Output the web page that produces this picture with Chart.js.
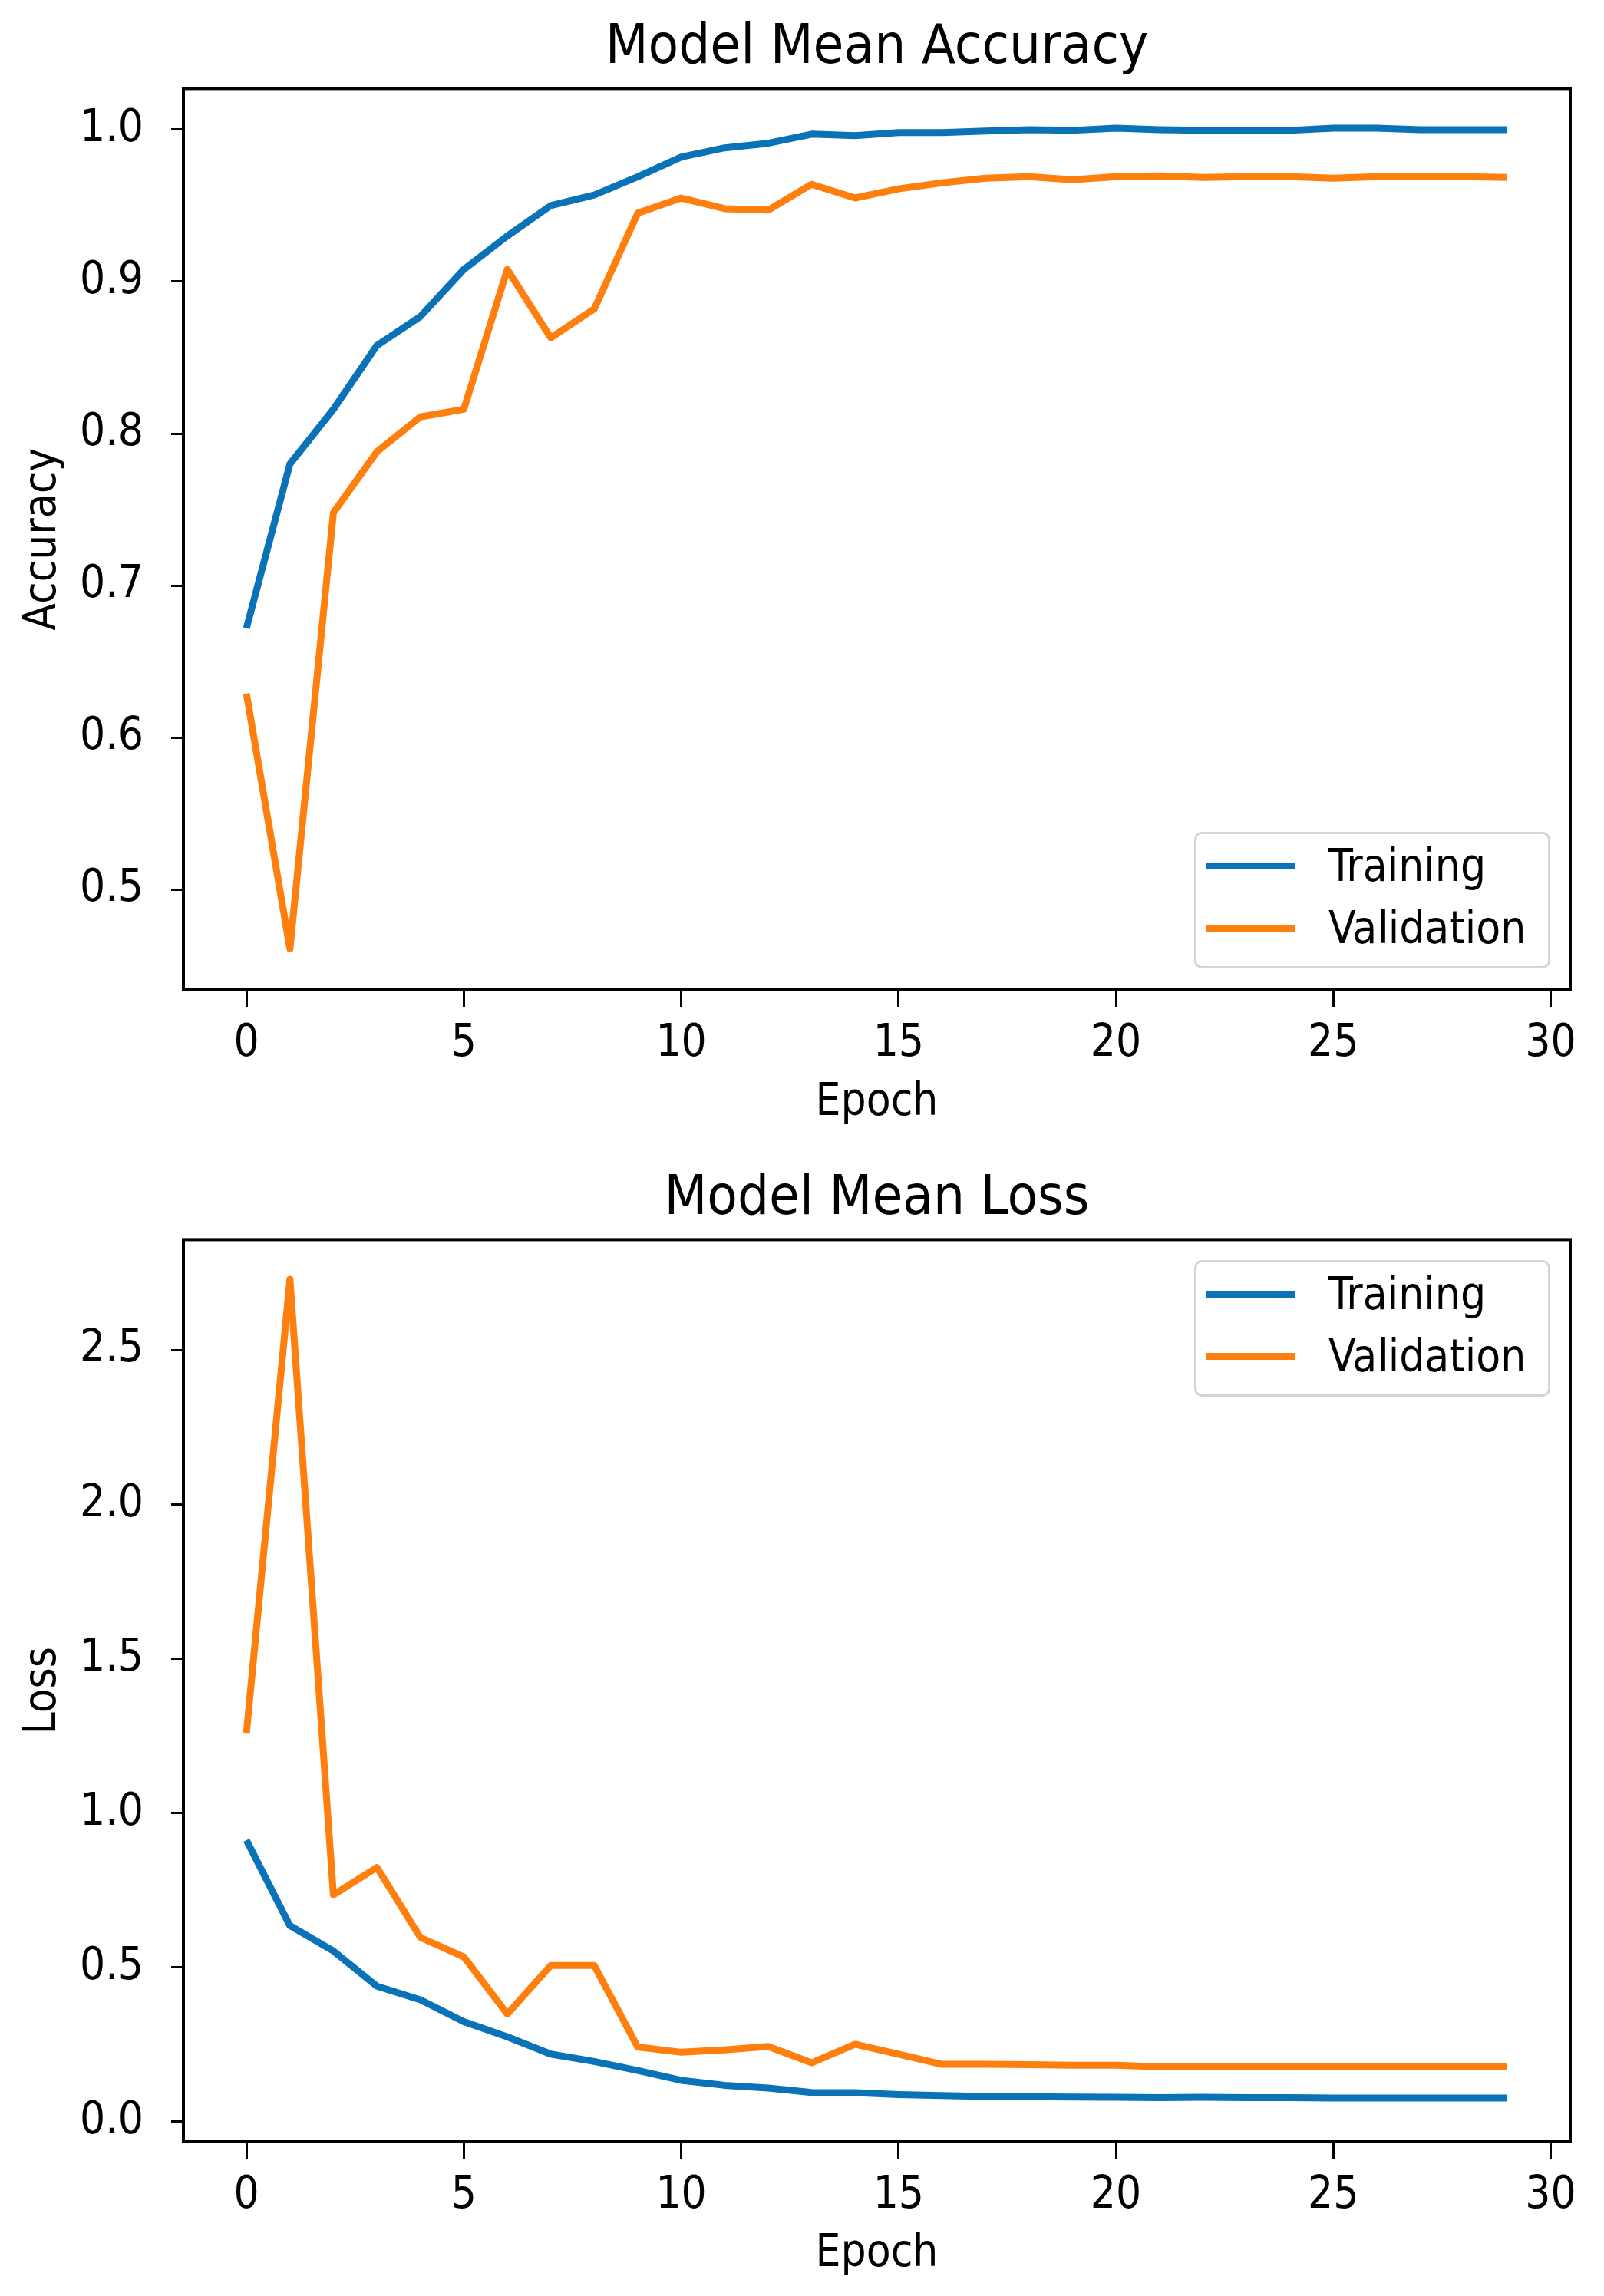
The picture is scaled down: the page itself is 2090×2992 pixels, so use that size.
<!DOCTYPE html>
<html>
<head>
<meta charset="utf-8">
<script src="https://cdn.jsdelivr.net/npm/chart.js@4.4.1/dist/chart.umd.min.js"></script>
<style>
  body { margin: 0; background: #fff; }
  .wrap { position: relative; width: 2090px; height: 2992px; }
  canvas { position: absolute; left: 0; }
  .legend {
    position: absolute;
    box-sizing: border-box;
    width: 464px;
    height: 178px;
    border: 3px solid #d4d4d4;
    border-radius: 10px;
    background: rgba(255, 255, 255, 0.85);
    font-family: 'DejaVu Sans Condensed', 'DejaVu Sans', sans-serif;
    font-size: 58px;
    color: #000;
  }
  .legend .row { position: absolute; left: 0; height: 70px; line-height: 70px; white-space: nowrap; }
  .legend .swatch { position: absolute; left: 12px; top: 31px; width: 116px; height: 9px; }
  .legend .label { position: absolute; left: 172px; top: 0; }
</style>
</head>
<body>
<div class="wrap">
  <canvas id="accChart" width="2090" height="1496" style="top:0"></canvas>
  <canvas id="lossChart" width="2090" height="1496" style="top:1496px"></canvas>
  <div id="accLegend" class="legend"></div>
  <div id="lossLegend" class="legend"></div>
</div>
<script>
const epochs = [0, 1, 2, 3, 4, 5, 6, 7, 8, 9, 10, 11, 12, 13, 14, 15, 16, 17, 18, 19, 20, 21, 22, 23, 24, 25, 26, 27, 28, 29];

const trainAcc = [0.672, 0.780, 0.816, 0.858, 0.877, 0.908, 0.930, 0.950, 0.957, 0.969,
                  0.982, 0.988, 0.991, 0.997, 0.996, 0.998, 0.998, 0.999, 1.000, 0.9995,
                  1.001, 1.000, 0.9995, 0.9995, 0.9995, 1.001, 1.001, 1.000, 1.000, 1.000];
const valAcc = [0.629, 0.461, 0.748, 0.788, 0.811, 0.816, 0.908, 0.863, 0.882, 0.945,
                0.955, 0.948, 0.947, 0.964, 0.955, 0.961, 0.965, 0.968, 0.969, 0.967,
                0.969, 0.9695, 0.9685, 0.969, 0.969, 0.968, 0.969, 0.969, 0.969, 0.9685];

const trainLoss = [0.912, 0.635, 0.553, 0.439, 0.395, 0.324, 0.275, 0.219, 0.195, 0.166,
                   0.134, 0.118, 0.109, 0.095, 0.094, 0.088, 0.085, 0.082, 0.081, 0.080,
                   0.079, 0.078, 0.079, 0.078, 0.078, 0.077, 0.077, 0.077, 0.077, 0.077];
const valLoss = [1.26, 2.73, 0.735, 0.824, 0.597, 0.534, 0.349, 0.506, 0.506, 0.242,
                 0.225, 0.233, 0.244, 0.191, 0.251, 0.219, 0.186, 0.186, 0.185, 0.183,
                 0.183, 0.178, 0.179, 0.180, 0.180, 0.180, 0.180, 0.180, 0.180, 0.180];

const epochTicks = [0, 5, 10, 15, 20, 25, 30];
const accTicks = [0.5, 0.6, 0.7, 0.8, 0.9, 1.0];
const lossTicks = [0.0, 0.5, 1.0, 1.5, 2.0, 2.5];

const BLUE = '#0a72b6';
const ORANGE = '#ff7f0e';
const FONT = "'DejaVu Sans Condensed', 'DejaVu Sans', sans-serif";

// draws the full black frame around the plot area
const frame = {
    id: 'frame',
    afterDraw(chart) {
        const {ctx, chartArea: a} = chart;
        ctx.save();
        ctx.strokeStyle = '#000';
        ctx.lineWidth = 4;
        ctx.strokeRect(a.left, a.top, a.right - a.left, a.bottom - a.top);
        ctx.restore();
    }
};

function pts(ys) {
    return epochs.map((e, i) => ({x: e, y: ys[i]}));
}

function makeChart(id, cfg) {
    const ctx = document.getElementById(id).getContext('2d');
    return new Chart(ctx, {
        type: 'line',
        data: {
            datasets: [{
                label: 'Training',
                data: pts(cfg.train),
                borderColor: BLUE,
                borderWidth: 9,
                pointRadius: 0,
                tension: 0,
                borderJoinStyle: 'round'
            }, {
                label: 'Validation',
                data: pts(cfg.val),
                borderColor: ORANGE,
                borderWidth: 9,
                pointRadius: 0,
                tension: 0,
                borderJoinStyle: 'round'
            }]
        },
        options: {
            responsive: false,
            animation: false,
            devicePixelRatio: 1,
            layout: { padding: { left: 0, right: 44, top: 0, bottom: 0 } },
            plugins: {
                legend: { display: false },
                tooltip: { enabled: false },
                title: {
                    display: true,
                    fullSize: false,
                    text: cfg.title,
                    color: '#000',
                    font: { family: FONT, size: 72, weight: 'normal', lineHeight: 1.2 },
                    padding: { top: cfg.titleTop, bottom: cfg.titleBottom }
                }
            },
            scales: {
                x: {
                    type: 'linear',
                    min: -1.45,
                    max: 30.45,
                    afterFit: s => { s.height = cfg.xHeight; },
                    afterBuildTicks: s => { s.ticks = epochTicks.map(v => ({value: v})); },
                    grid: { drawOnChartArea: false, drawTicks: true, tickLength: 22, tickWidth: 3, tickColor: '#000' },
                    border: { display: false },
                    ticks: { color: '#000', padding: 14, maxRotation: 0, font: { family: FONT, size: 58 } },
                    title: {
                        display: true,
                        text: 'Epoch',
                        color: '#000',
                        font: { family: FONT, size: 58, lineHeight: 1.2 },
                        padding: { top: 0, bottom: cfg.epochPad }
                    }
                },
                y: {
                    type: 'linear',
                    min: cfg.yMin,
                    max: cfg.yMax,
                    afterFit: s => { s.width = 239; },
                    afterBuildTicks: s => { s.ticks = cfg.yTicks.map(v => ({value: v})); },
                    grid: { drawOnChartArea: false, drawTicks: true, tickLength: 16, tickWidth: 3, tickColor: '#000' },
                    border: { display: false },
                    ticks: {
                        color: '#000',
                        padding: 36,
                        font: { family: FONT, size: 58 },
                        callback: v => v.toFixed(1)
                    },
                    title: {
                        display: true,
                        text: cfg.yLabel,
                        color: '#000',
                        font: { family: FONT, size: 58, lineHeight: 1.2 },
                        padding: { top: 22, bottom: 0 }
                    }
                }
            }
        },
        plugins: [frame]
    });
}

function buildLegend(chart, el, canvasTop, corner) {
    chart.data.datasets.forEach((ds, i) => {
        const row = document.createElement('div');
        row.className = 'row';
        row.style.top = (6 + i * 81) + 'px';
        row.innerHTML = `<span class="swatch" style="background:${ds.borderColor}"></span><span class="label">${ds.label}</span>`;
        el.appendChild(row);
    });
    const a = chart.chartArea;
    el.style.left = (a.right - 26 - 464) + 'px';
    if (corner === 'lower') {
        el.style.top = (canvasTop + a.bottom - 28 - 178) + 'px';
    } else {
        el.style.top = (canvasTop + a.top + 27) + 'px';
    }
}

const accChart = makeChart('accChart', {
    title: 'Model Mean Accuracy',
    yLabel: 'Accuracy',
    train: trainAcc,
    val: valAcc,
    yTicks: accTicks,
    yMin: 0.434,
    yMax: 1.027,
    titleTop: 20,
    titleBottom: 9,
    xHeight: 206,
    epochPad: 23
});

const lossChart = makeChart('lossChart', {
    title: 'Model Mean Loss',
    yLabel: 'Loss',
    train: trainLoss,
    val: valLoss,
    yTicks: lossTicks,
    yMin: -0.065,
    yMax: 2.858,
    titleTop: 24,
    titleBottom: 9,
    xHeight: 201,
    epochPad: 19
});

buildLegend(accChart, document.getElementById('accLegend'), 0, 'lower');
buildLegend(lossChart, document.getElementById('lossLegend'), 1496, 'upper');
</script>
</body>
</html>
